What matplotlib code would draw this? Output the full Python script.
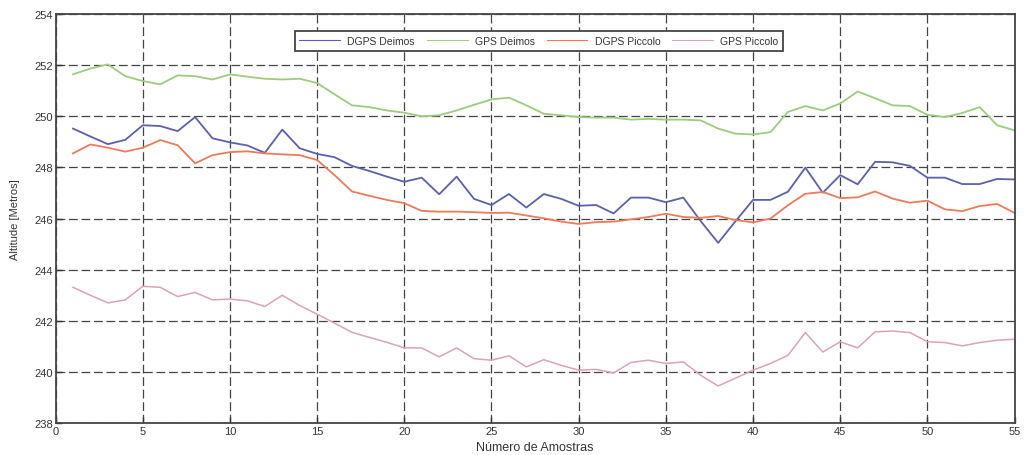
import matplotlib.pyplot as plt
import numpy as np

plt.rcParams['font.family'] = ['Liberation Sans', 'DejaVu Sans']
plt.rcParams['font.size'] = 8

amostras = np.arange(1, 56)

dgps_deimos = [249.52, 249.21, 248.91, 249.08, 249.65, 249.62, 249.42, 249.97, 249.14, 248.98,
               248.86, 248.57, 249.48, 248.75, 248.53, 248.40, 248.06, 247.86, 247.64, 247.44,
               247.60, 246.95, 247.64, 246.77, 246.53, 246.96, 246.43, 246.96, 246.77, 246.50,
               246.53, 246.20, 246.82, 246.82, 246.64, 246.82, 245.90, 245.05, 245.90, 246.73,
               246.73, 247.05, 247.99, 247.01, 247.70, 247.34, 248.22, 248.20, 248.06, 247.60,
               247.60, 247.35, 247.35, 247.55, 247.53]

gps_deimos = [251.64, 251.87, 252.03, 251.57, 251.38, 251.25, 251.60, 251.57, 251.44, 251.64,
              251.55, 251.47, 251.44, 251.47, 251.30, 250.86, 250.43, 250.36, 250.23, 250.14,
              250.00, 250.04, 250.23, 250.45, 250.66, 250.73, 250.43, 250.10, 250.04, 249.97,
              249.95, 249.95, 249.87, 249.90, 249.87, 249.87, 249.84, 249.52, 249.32, 249.29,
              249.38, 250.17, 250.40, 250.23, 250.50, 250.97, 250.71, 250.43, 250.40, 250.06,
              249.97, 250.13, 250.36, 249.65, 249.45]

dgps_piccolo = [248.55, 248.90, 248.77, 248.62, 248.77, 249.07, 248.87, 248.16, 248.48, 248.60,
                248.63, 248.55, 248.51, 248.48, 248.29, 247.70, 247.06, 246.89, 246.73, 246.60,
                246.30, 246.27, 246.27, 246.25, 246.22, 246.23, 246.12, 246.01, 245.88, 245.79,
                245.86, 245.88, 245.97, 246.06, 246.19, 246.06, 246.03, 246.10, 245.94, 245.85,
                246.00, 246.52, 246.97, 247.04, 246.80, 246.83, 247.06, 246.78, 246.62, 246.70,
                246.36, 246.29, 246.49, 246.57, 246.22]

gps_piccolo = [243.31, 243.00, 242.70, 242.82, 243.35, 243.31, 242.95, 243.11, 242.82, 242.85,
               242.78, 242.56, 243.00, 242.60, 242.26, 241.91, 241.55, 241.35, 241.16, 240.94,
               240.94, 240.59, 240.94, 240.52, 240.46, 240.63, 240.20, 240.48, 240.26, 240.07,
               240.10, 239.96, 240.37, 240.46, 240.33, 240.39, 239.87, 239.45, 239.76, 240.07,
               240.33, 240.65, 241.54, 240.78, 241.18, 240.94, 241.57, 241.60, 241.54, 241.18,
               241.15, 241.02, 241.15, 241.24, 241.28]

fig = plt.figure(figsize=(10.29, 4.56), dpi=100)
ax = fig.add_axes([0.054, 0.070, 0.932, 0.897])

ax.plot(amostras, dgps_deimos, color='#5c5fae', lw=1.3, label='DGPS Deimos')
ax.plot(amostras, gps_deimos, color='#9ccc7c', lw=1.3, label='GPS Deimos')
ax.plot(amostras, dgps_piccolo, color='#ee7a58', lw=1.3, label='DGPS Piccolo')
ax.plot(amostras, gps_piccolo, color='#dba4b4', lw=1.1, label='GPS Piccolo')

ax.set_xlim(0, 55)
ax.set_ylim(238, 254)
ax.set_xticks(np.arange(0, 56, 5))
ax.set_yticks(np.arange(238, 255, 2))
ax.tick_params(direction='in', length=4, width=1, colors='#333333', labelsize=8, pad=2)
ax.grid(True, color='#444444', linestyle=(0, (7, 3)), linewidth=0.9)
for s in ax.spines.values():
    s.set_linewidth(1.3)
    s.set_color('#444444')

ax.set_xlabel('Número de Amostras', fontsize=9, color='#333333', labelpad=4)
ax.set_ylabel('Altitude [Metros]', fontsize=8, color='#333333', labelpad=10)

leg = ax.legend(loc='upper center', bbox_to_anchor=(0.504, 0.958), ncol=4, fontsize=7.5,
                frameon=True, fancybox=False, handlelength=3.9, handletextpad=0.7,
                columnspacing=1.15, borderpad=0.45, borderaxespad=0, labelcolor='#333333')
leg.get_frame().set_edgecolor('#444444')
leg.get_frame().set_linewidth(1.3)
leg.get_frame().set_alpha(1)
for ln in leg.get_lines():
    ln.set_linewidth(0.8)

fig.savefig('out.png', dpi=100)
